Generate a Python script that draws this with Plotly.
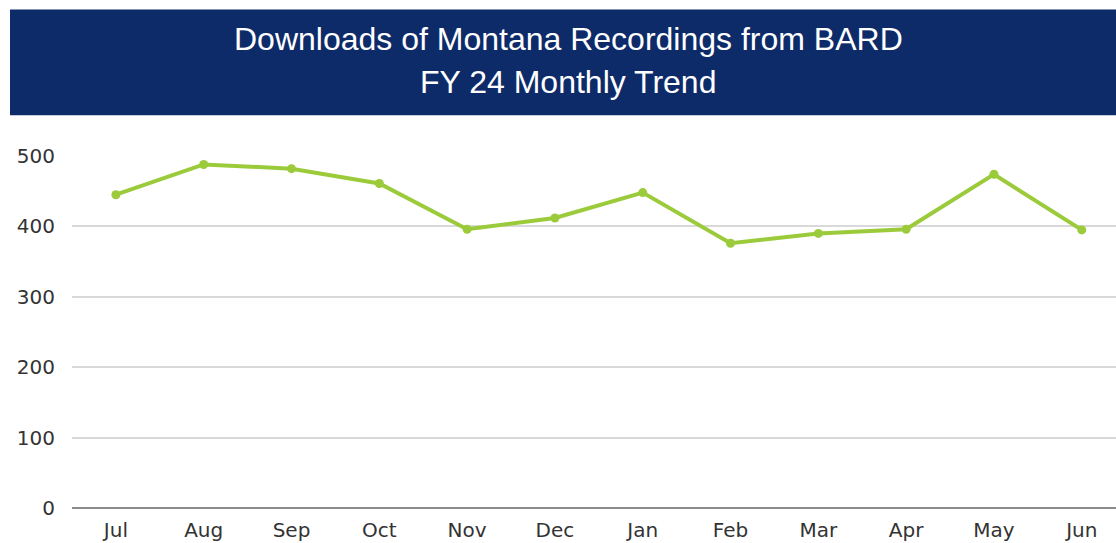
import plotly.graph_objects as go

months = ["Jul", "Aug", "Sep", "Oct", "Nov", "Dec", "Jan", "Feb", "Mar", "Apr", "May", "Jun"]
downloads = [445, 488, 482, 461, 396, 412, 448, 376, 390, 396, 474, 395]
y_ticks = [0, 100, 200, 300, 400, 500]
title_line1 = "Downloads of Montana Recordings from BARD"
title_line2 = "FY 24 Monthly Trend"

W, H = 1116, 543
L, R, T, B = 72, 0, 155.7, 34.7
pw, ph = W - L - R, H - T - B

def px_x(x):
    return (x - L) / pw

def px_y(y):
    return (H - B - y) / ph

fig = go.Figure()
fig.add_trace(go.Scatter(
    x=months, y=downloads, mode="lines+markers",
    line=dict(color="#9BCB3B", width=4),
    marker=dict(color="#9BCB3B", size=9),
    cliponaxis=False, showlegend=False,
))

tick_font = dict(family="DejaVu Sans, sans-serif", size=20, color="#333333")

fig.update_layout(
    width=W, height=H,
    margin=dict(l=L, r=R, t=T, b=B),
    paper_bgcolor="white", plot_bgcolor="white",
    font=dict(family="DejaVu Sans, sans-serif", color="#333333", size=20),
    xaxis=dict(
        range=[-0.5, 11.39], showgrid=False, zeroline=False,
        showline=False, ticks="", tickfont=tick_font,
        ticklabelstandoff=8,
    ),
    yaxis=dict(
        range=[0, 500], tickvals=y_ticks, showgrid=True,
        gridcolor="#D9D9D9", gridwidth=1.5, zeroline=True,
        zerolinecolor="#8C8C8C", zerolinewidth=1.5, showline=False,
        ticks="", tickfont=tick_font, ticklabelstandoff=16,
    ),
    shapes=[dict(
        type="rect", xref="paper", yref="paper",
        x0=px_x(10), x1=px_x(1116), y0=px_y(115), y1=px_y(9),
        fillcolor="#0E2B69", line=dict(width=0), layer="above",
    )],
    annotations=[
        dict(text=title_line1, xref="paper", yref="paper",
             x=px_x(568), y=px_y(38.3), xanchor="center", yanchor="middle",
             showarrow=False,
             font=dict(family="Liberation Sans, Arial, sans-serif", size=32, color="white")),
        dict(text=title_line2, xref="paper", yref="paper",
             x=px_x(568), y=px_y(82), xanchor="center", yanchor="middle",
             showarrow=False,
             font=dict(family="Liberation Sans, Arial, sans-serif", size=32, color="white")),
    ],
)

fig.write_html("out.html", config={"displayModeBar": False},
               post_script="document.body.style.margin='0px';document.body.style.padding='0px';")
